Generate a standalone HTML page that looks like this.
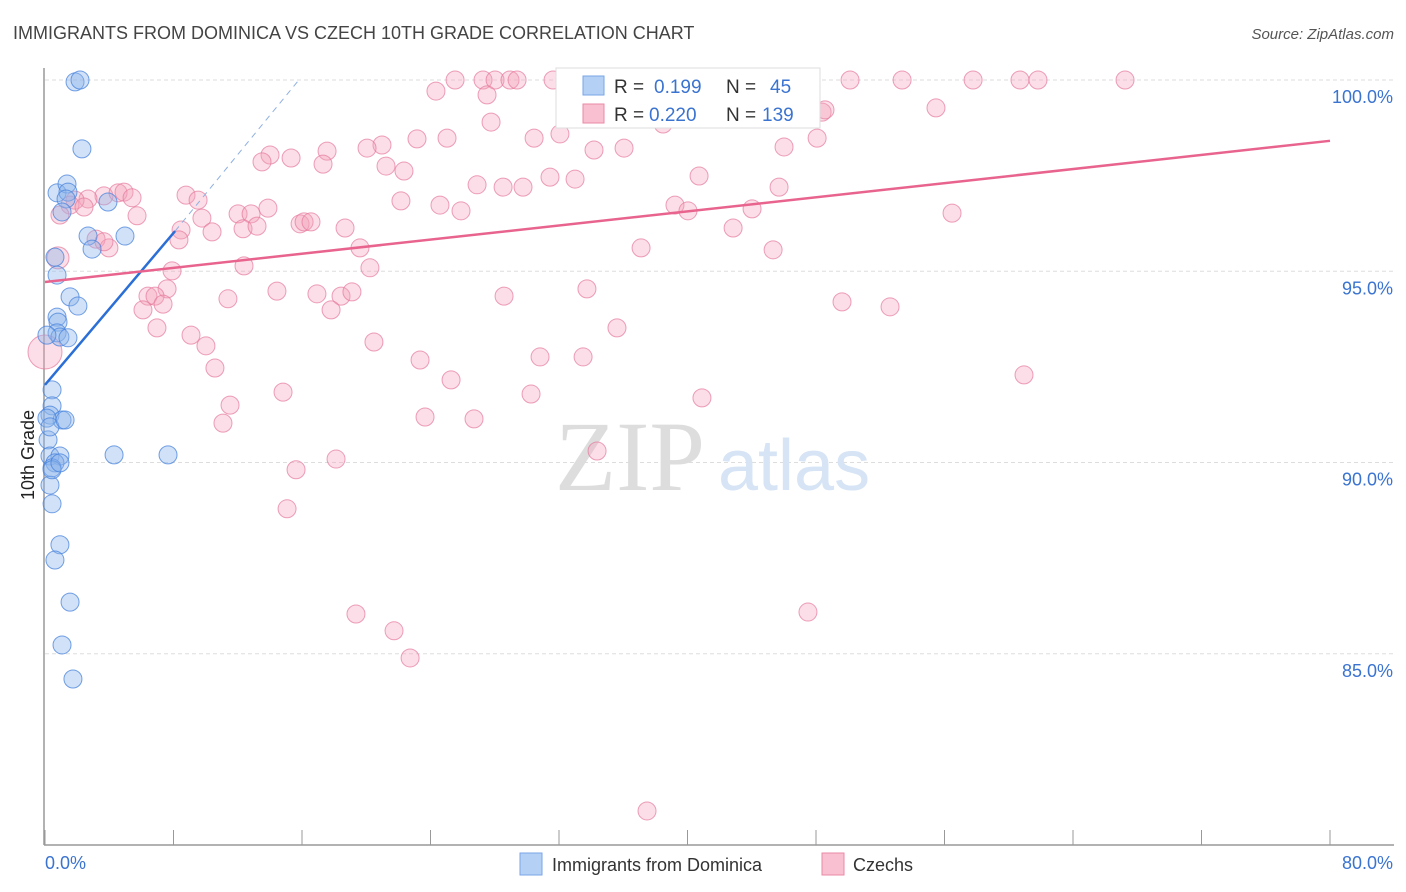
<!DOCTYPE html>
<html><head><meta charset="utf-8"><style>
body{margin:0;background:#fff;font-family:"Liberation Sans",sans-serif;}
svg{display:block}
</style></head><body>
<svg id="chart" width="1406" height="892" viewBox="0 0 1406 892">
<text x="13" y="39" font-size="18" fill="#444">IMMIGRANTS FROM DOMINICA VS CZECH 10TH GRADE CORRELATION CHART</text>
<text x="1394" y="39" font-size="15" fill="#555" font-style="italic" text-anchor="end">Source: ZipAtlas.com</text>
<g id="grid"></g>
<text x="555" y="490" font-size="100" fill="#ddd" font-family="Liberation Serif,serif">ZIP</text>
<text x="718" y="490" font-size="72" fill="#d6e4f5">atlas</text>
<g id="axes"></g>
<text transform="translate(34,455) rotate(-90)" font-size="18" fill="#222" text-anchor="middle">10th Grade</text>
<g id="pts"></g>
<g id="lines"></g>
<g>
<rect x="556" y="68" width="264" height="60" fill="#fff" stroke="#ddd"/>
<rect x="583" y="76" width="21" height="19" fill="#b5d0f5" stroke="#7aa6e6"/>
<text x="614" y="93" font-size="19" fill="#333">R = <tspan fill="#3a73d0" x="654">0.199</tspan><tspan x="726" fill="#333">N = </tspan><tspan x="770" fill="#3a73d0">45</tspan></text>
<rect x="583" y="104" width="21" height="19" fill="#f8c0d0" stroke="#e88aa6"/>
<text x="614" y="121" font-size="19" fill="#333">R = <tspan fill="#3a73d0" x="649">0.220</tspan><tspan x="726" fill="#333">N = </tspan><tspan x="762" fill="#3a73d0">139</tspan></text>
</g>
<g>
<rect x="520" y="853" width="22" height="22" fill="#b5d0f5" stroke="#7aa6e6"/>
<text x="552" y="871" font-size="18" fill="#333">Immigrants from Dominica</text>
<rect x="822" y="853" width="22" height="22" fill="#f8c0d0" stroke="#e88aa6"/>
<text x="853" y="871" font-size="18" fill="#333">Czechs</text>
</g>
</svg>
<script>
const yTicks=[100,95,90,85];
const xTickLabels=["0.0%","80.0%"];
const blueX=[1.87,2.18,2.30,0.75,1.37,1.43,1.31,3.92,1.06,2.68,4.98,2.93,0.62,0.75,1.56,2.05,0.75,0.81,0.75,0.93,1.43,0.44,0.44,0.31,1.06,0.12,0.19,0.31,0.93,0.62,0.44,0.31,0.44,0.93,0.62,1.56,1.06,1.74,4.30,7.66,0.12,0.31,0.44,1.25,0.93];
const blueY=[99.95,100,98.20,97.05,97.28,97.07,96.89,96.81,96.55,95.92,95.92,95.58,95.37,94.90,94.33,94.09,93.80,93.67,93.39,93.28,93.26,91.90,91.48,91.24,91.11,91.16,90.59,90.17,90.17,89.99,89.86,89.41,88.92,87.85,87.45,86.35,85.23,84.34,90.20,90.20,93.33,90.93,89.81,91.11,89.99];
const pinkX=[25.53,27.27,28.02,28.95,29.39,31.63,38.10,42.21,44.39,46.82,50.12,53.36,57.78,60.70,61.82,67.24,24.34,27.52,48.38,48.56,55.47,27.77,33.87,38.48,23.16,25.03,30.45,32.06,48.07,20.98,20.05,17.56,36.05,34.18,46.01,14.01,15.32,13.51,17.31,21.23,22.35,31.44,33.00,26.90,28.52,29.76,40.72,45.70,22.16,24.59,25.90,39.22,40.03,44.02,56.47,42.84,37.11,45.33,8.78,9.53,3.67,4.55,4.92,5.42,2.68,1.87,1.56,2.43,0.93,5.73,9.77,10.40,12.02,12.83,13.88,12.33,13.20,15.88,16.13,16.56,18.68,8.47,8.34,3.18,3.98,3.67,19.61,12.39,7.91,20.23,7.60,6.41,6.85,6.10,7.35,11.39,14.44,16.93,18.43,19.11,17.81,28.58,33.74,49.62,52.61,6.97,9.09,10.02,35.61,20.48,30.82,33.50,23.35,10.58,25.28,14.82,11.52,30.26,40.90,11.08,23.66,26.71,60.95,15.63,18.12,34.37,15.07,19.36,21.73,22.73,47.50,37.48,0.81,0];
const pinkY=[100,100,100,100,100,100,100,100,100,100,100,100,100,100,100,100,99.71,99.61,99.16,99.22,99.27,98.90,99.11,98.85,98.46,98.48,98.48,98.59,98.48,98.30,98.22,98.14,98.22,98.17,98.25,98.04,97.96,97.86,97.80,97.75,97.62,97.46,97.41,97.26,97.20,97.20,97.49,97.20,96.84,96.73,96.58,96.73,96.58,96.63,96.52,96.13,95.61,95.56,96.99,96.86,96.97,97.05,97.07,96.92,96.89,96.86,96.73,96.68,96.47,96.45,96.39,96.03,96.50,96.50,96.65,96.11,96.18,96.24,96.29,96.29,96.13,96.08,95.82,95.84,95.61,95.77,95.61,95.14,95.01,95.09,94.54,94.35,94.35,93.99,94.14,94.28,94.48,94.41,94.35,94.46,93.99,94.35,94.54,94.20,94.07,93.52,93.33,93.05,93.52,93.15,92.76,92.76,92.68,92.47,92.16,91.84,91.50,91.79,91.69,91.03,91.19,91.14,92.29,89.81,90.09,90.30,88.79,86.04,85.60,84.89,86.09,80.89,95.35,92.89];
const blueTrend=[0,92.03,8.1,96.05,15.9,100.05];
const pinkTrend=[0,94.72,80,98.41];
const NS="http://www.w3.org/2000/svg";
const sx=v=>45+v*1285/80, sy=v=>80+(100-v)*38.25;
function mk(t,a,p){const e=document.createElementNS(NS,t);for(const k in a)e.setAttribute(k,a[k]);p.appendChild(e);return e;}
const grid=document.getElementById('grid');
yTicks.forEach(t=>{
 const l=mk('line',{x1:45,x2:1394,y1:sy(t),y2:sy(t),stroke:'#ddd','stroke-dasharray':'4,3'},grid);
 
 
 const tx=mk('text',{x:1393,y:sy(t)+23,'font-size':18,fill:'#3a73d0','text-anchor':'end'},grid);
 tx.textContent=t.toFixed(1)+'%';
 
 
});
const ax=document.getElementById('axes');
mk('line',{x1:44,x2:44,y1:68,y2:845,stroke:'#999','stroke-width':1.5},ax);
mk('line',{x1:44,x2:1394,y1:845,y2:845,stroke:'#999','stroke-width':1.5},ax);
for(let i=0;i<=10;i++){const x=sx(i*8);const t=mk('line',{x1:x,x2:x,y1:830,y2:845,stroke:'#999'},ax);
 
 }
const xl0=mk('text',{x:45,y:869,'font-size':18,fill:'#3a73d0'},ax);xl0.textContent=xTickLabels[0];


const xl1=mk('text',{x:1393,y:869,'font-size':18,fill:'#3a73d0','text-anchor':'end'},ax);xl1.textContent=xTickLabels[1];


const pts=document.getElementById('pts');
pinkX.forEach((v,i)=>{const r=(i>=pinkX.length-2)?(i==pinkX.length-1?17:11):9;
 const c=mk('circle',{cx:sx(v),cy:sy(pinkY[i]),r:r,fill:'rgba(244,160,185,0.35)',stroke:'rgba(230,120,155,0.7)','stroke-width':1},pts);
 
 });
blueX.forEach((v,i)=>{const c=mk('circle',{cx:sx(v),cy:sy(blueY[i]),r:9,fill:'rgba(140,180,235,0.4)',stroke:'rgba(70,130,220,0.75)','stroke-width':1},pts);
 
 });
const ln=document.getElementById('lines');
const b1=mk('line',{x1:sx(blueTrend[0]),y1:sy(blueTrend[1]),x2:sx(blueTrend[2]),y2:sy(blueTrend[3]),stroke:'#2b6fd6','stroke-width':2.5},ln);


const b2=mk('line',{x1:sx(blueTrend[2]),y1:sy(blueTrend[3]),x2:sx(blueTrend[4]),y2:sy(blueTrend[5]),stroke:'#8fb0e0','stroke-width':1,'stroke-dasharray':'6,5'},ln);


const p1=mk('line',{x1:sx(pinkTrend[0]),y1:sy(pinkTrend[1]),x2:sx(pinkTrend[2]),y2:sy(pinkTrend[3]),stroke:'#e8648e','stroke-width':2.5},ln);


</script>
</body></html>
